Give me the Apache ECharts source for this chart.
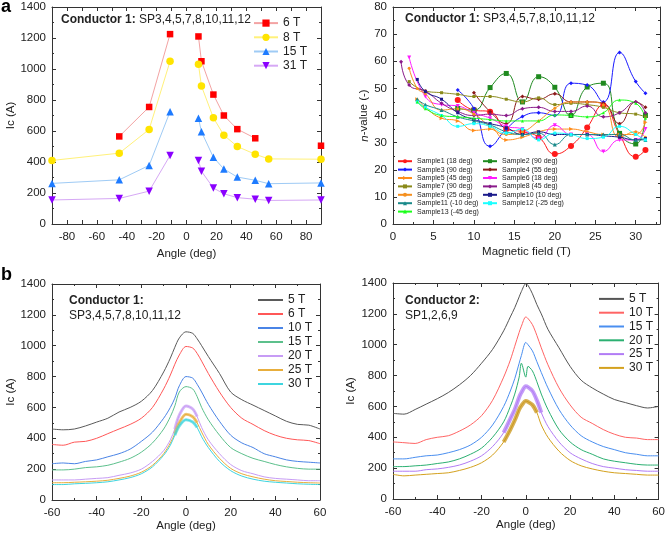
<!DOCTYPE html>
<html><head><meta charset="utf-8">
<script src="https://cdn.jsdelivr.net/npm/echarts@6/dist/echarts.min.js"></script>
<style>html,body{margin:0;padding:0;background:#fff}#c{width:668px;height:536px}</style>
</head><body><div id="c"></div>
<script>
// ---------- Panel a (left): Ic vs angle, Conductor 1 ----------
const anglesA = [-90, -45, -25, -11, 0, 8, 10, 18, 25, 34, 46, 55, 90];
const ic6T  = [null, 565, 755, 1225, null, 1210, 1050, 835, 700, 612, 553, null, 505];
const ic8T  = [410, 457, 610, 1050, null, 1030, 890, 685, 573, 500, 450, 420, 418];
const ic15T = [262, 285, 378, 725, null, 683, 595, 430, 355, 303, 282, 260, 265];
const ic31T = [155, 165, 212, 442, null, 410, 340, 232, 195, 170, 160, 152, 155];

// ---------- Panel a (right): n-value vs field ----------
const fieldsN = [1, 2, 3, 4, 6, 8, 10, 12, 14, 16, 18, 20, 22, 24, 26, 28, 30, 31.2];
const n1  = [null, null, null, null, null, 45.7, 42, 41.4, 35, 34, 32, 25.8, 28.8, 35.6, 43.9, 33, 24.8, 27.3];
const n2  = [null, null, null, null, null, 42.6, 42, 50.3, 55.5, 45, 54.3, 50.4, 40, 50.5, 51.9, 33.4, 29.5, 40];
const n3  = [null, null, null, null, null, 49.4, 42.6, 28.7, 35, 39.6, 41, 40, 51.9, 51.2, 45, 63.2, 52.5, 48.2];
const n4  = [null, null, null, null, null, null, 48.4, 41.4, 37, 47, 46, 48, 45, 45, 44.5, 37, 45, 43];
const n5  = [null, null, 46, 43, 39, 38, 34.5, 35, 31, 32, 34, 35, 35, 34, 33, 33, 33, 37.5];
const n6  = [null, 61.4, null, 47, 44, 43.5, 41, 39, 36, 35, 31.5, 36.4, 33, 33, 26.7, 31, 31, 35];
const n7  = [null, 52.5, null, 49, 48.4, 47.8, 47, 47, 46, 45, 46.5, 44, 44.5, 44, 43, 41, 40.5, 39.5];
const n8  = [59.8, 51.2, null, 49, 44.5, 41.5, 40, 40.5, 40, 42.5, 43, 41.5, 41.5, 43.5, 39.5, 41, 45, 41];
const n9  = [null, 57.4, 50, 48, 42, 42.5, 40.5, 36, 33, 34, 38, 42.7, 45, 45, 44, 32, 34, 32];
const n10 = [null, null, 53.3, 48.8, 46, 41, 38.5, 37, 35.5, 33, 34, 33, 33, 33, 32.5, 32, 31, 31.5];
const n11 = [null, null, 46, 44, 42, 39.5, 38, 36.5, 34, 33, 33.5, 29.3, 33, 33, 33, 33, 31, 31];
const n12 = [null, null, 45, 43, 40, 36, 37, 36, 33.5, 35, 31, 33.5, 33, 31.5, 32, 36, 33, 31];
const n13 = [null, null, 45, 42.5, 40, 39.5, 39, 38.5, 38, 38, 38, 40.2, 40, 39.5, 41, 45.7, 44.5, 39];
const sampleNames = ['Sample1 (18 deg)', 'Sample2 (90 deg)', 'Sample3 (90 deg)', 'Sample4 (55 deg)',
  'Sample5 (45 deg)', 'Sample6 (18 deg)', 'Sample7 (90 deg)', 'Sample8 (45 deg)', 'Sample9 (25 deg)',
  'Sample10 (10 deg)', 'Sample11 (-10 deg)', 'Sample12 (-25 deg)', 'Sample13 (-45 deg)'];

// ---------- Panel b (left): Conductor 1 angular scans ----------
const anglesB = [-60, -55, -50, -45, -40, -35, -30, -25, -20, -15, -10, -7, -5, -3, 0, 3, 5, 7, 10, 15, 20, 25, 30, 35, 40, 45, 50, 55, 60];
const c1_5T  = [460, 455, 460, 480, 505, 530, 570, 600, 640, 710, 830, 920, 990, 1050, 1090, 1080, 1045, 1000, 930, 820, 700, 650, 615, 580, 545, 510, 490, 485, 460];
const c1_6T  = [360, 355, 375, 380, 400, 430, 460, 490, 530, 600, 720, 810, 880, 940, 995, 985, 950, 900, 820, 700, 600, 530, 490, 450, 420, 400, 390, 385, 365];
const c1_10T = [235, 240, 235, 250, 260, 280, 300, 330, 380, 440, 530, 600, 660, 740, 800, 790, 750, 700, 620, 510, 420, 370, 340, 300, 280, 260, 250, 245, 240];
const c1_15T = [195, 195, 200, 210, 215, 225, 245, 270, 310, 370, 460, 540, 610, 700, 735, 720, 670, 600, 520, 420, 340, 300, 270, 250, 230, 215, 205, 200, 200];
const c1_20T = [130, 130, 130, 135, 140, 145, 160, 175, 200, 250, 320, 390, 460, 550, 610, 590, 540, 470, 390, 300, 230, 190, 170, 150, 140, 135, 130, 125, 125];
const c1_25T = [112, 112, 115, 118, 122, 128, 140, 155, 180, 225, 300, 370, 430, 500, 555, 540, 500, 440, 360, 270, 205, 170, 150, 135, 125, 120, 115, 112, 110];
const c1_30T = [100, 100, 105, 108, 112, 118, 130, 145, 170, 215, 290, 355, 420, 480, 520, 505, 470, 410, 340, 250, 190, 155, 135, 122, 115, 110, 105, 102, 100];

// ---------- Panel b (right): Conductor 2 angular scans ----------
const anglesC = [-60, -55, -50, -45, -40, -35, -30, -25, -20, -15, -10, -7, -5, -3, -2, 0, 1, 3, 5, 7, 10, 15, 20, 25, 30, 35, 40, 45, 50, 55, 60];
const c2_5T  = [555, 550, 580, 615, 650, 690, 740, 800, 880, 970, 1090, 1180, 1240, 1310, 1345, 1395, 1385, 1330, 1260, 1200, 1100, 980, 860, 770, 720, 680, 645, 625, 605, 590, 600];
const c2_10T = [370, 365, 360, 385, 400, 410, 440, 480, 540, 640, 790, 900, 990, 1080, 1120, 1180, 1170, 1130, 1060, 980, 870, 720, 610, 530, 490, 450, 420, 400, 395, 385, 385];
const c2_15T = [260, 260, 270, 280, 285, 300, 320, 350, 400, 480, 600, 700, 780, 880, 930, 1015, 1000, 960, 890, 820, 720, 580, 480, 410, 370, 340, 320, 300, 290, 280, 280];
const c2_20T = [210, 210, 215, 220, 230, 240, 260, 290, 330, 400, 500, 600, 680, 790, 880, 790, 860, 830, 760, 680, 580, 450, 370, 320, 290, 260, 245, 235, 225, 220, 220];
const c2_25T = [180, 180, 180, 190, 195, 205, 220, 245, 280, 340, 430, 520, 580, 660, 690, 730, 725, 700, 640, 560, 470, 370, 300, 260, 230, 210, 200, 190, 185, 180, 180];
const c2_30T = [160, 150, 155, 160, 165, 170, 185, 205, 235, 285, 370, 450, 510, 580, 605, 635, 630, 610, 560, 480, 400, 310, 250, 215, 195, 180, 170, 165, 160, 155, 155];

// ---------- helpers ----------
const FF = '"Liberation Sans", Arial, sans-serif';
const TXT = '#222';
const AX = '#333';
const pairs = (xs, ys) => xs.map((x, i) => [x, ys[i] == null ? '-' : ys[i]]);
const plain = v => String(v);

function axes(g, o) {
  return {
    type: 'value', gridIndex: g, min: o.min, max: o.max, interval: o.interval,
    splitLine: { show: false },
    axisLine: { show: true, onZero: false, lineStyle: { color: AX, width: 1 } },
    axisTick: { show: true, inside: true, length: 4, lineStyle: { color: AX } },
    minorTick: { show: true, splitNumber: o.minor || 2, length: 2, lineStyle: { color: AX } }
  };
}
const xAxes = [], yAxes = [];
function addGrid(g, xo, yo) {
  xAxes.push(Object.assign(axes(g, xo), {
    position: 'bottom',
    axisLabel: { color: TXT, fontSize: 11.5, fontFamily: FF, margin: xo.margin || 7, formatter: xo.fmt || plain },
    name: xo.name, nameLocation: 'middle', nameGap: xo.gap,
    nameTextStyle: { color: TXT, fontSize: 11.5, fontFamily: FF }
  }));
  xAxes.push(Object.assign(axes(g, xo), { position: 'top', axisLabel: { show: false } }));
  yAxes.push(Object.assign(axes(g, yo), {
    position: 'left',
    axisLabel: { color: TXT, fontSize: 11.5, fontFamily: FF, margin: 6, formatter: plain },
    name: yo.name, nameLocation: 'middle', nameGap: yo.gap,
    nameTextStyle: Object.assign({ color: TXT, fontSize: 11.5, fontFamily: FF }, yo.nameStyle || {})
  }));
  yAxes.push(Object.assign(axes(g, yo), { position: 'right', axisLabel: { show: false } }));
}
addGrid(0, { min: -90, max: 90, interval: 10, minor: 1, name: 'Angle (deg)', gap: 24,
  fmt: v => (v % 20 === 0 && Math.abs(v) < 90) ? String(v) : '' },
  { min: 0, max: 1400, interval: 200, name: 'Ic (A)', gap: 31 });
addGrid(1, { min: 0, max: 33, interval: 5, minor: 2, name: 'Magnetic field (T)', gap: 22,
  fmt: v => (v % 5 === 0) ? String(v) : '' },
  { min: 0, max: 80, interval: 10, name: '{i|n}-value (-)', gap: 17,
    nameStyle: { rich: { i: { fontStyle: 'italic', fontSize: 11.5, fontFamily: FF, color: TXT } } } });
addGrid(2, { min: -60, max: 60, interval: 20, minor: 2, name: 'Angle (deg)', gap: 19 },
  { min: 0, max: 1400, interval: 200, name: 'Ic (A)', gap: 31 });
addGrid(3, { min: -60, max: 60, interval: 20, minor: 2, name: 'Angle (deg)', gap: 20 },
  { min: 0, max: 1400, interval: 200, name: 'Ic (A)', gap: 36 });

const series = [];
// panel a-left
const aDefs = [
  ['a|6 T', ic6T, '#ff0000', '#f3a3a3', 'rect', 6.5, 0],
  ['a|8 T', ic8T, '#ffe400', '#fff17a', 'circle', 7.5, 0],
  ['a|15 T', ic15T, '#1e7bff', '#9fcbf5', 'triangle', 7.5, 0],
  ['a|31 T', ic31T, '#8a00ff', '#d6a8f5', 'triangle', 7.5, 180]
];
aDefs.forEach(d => series.push({
  type: 'line', name: d[0], xAxisIndex: 0, yAxisIndex: 0, data: pairs(anglesA, d[1]),
  symbol: d[4], symbolSize: d[5], symbolRotate: d[6], showSymbol: true, connectNulls: false,
  itemStyle: { color: d[2] }, lineStyle: { color: d[3], width: 1 }, z: 3, animation: false
}));
// panel a-right
const nVals = [n1, n2, n3, n4, n5, n6, n7, n8, n9, n10, n11, n12, n13];
const nColors = ['#ff1a1a', '#1f8a1f', '#1a1aff', '#8b1a1a', '#ff8c1a', '#ff1aff', '#8a8a1a', '#8a1a8a',
  '#f5901f', '#1a1a8b', '#1a8a8a', '#1affff', '#1aff1a'];
const nSym = [['circle', 6, 0], ['rect', 5, 0], ['diamond', 4, 0], ['diamond', 4, 0], ['triangle', 4, -90],
  ['triangle', 4, 180], ['rect', 3, 0], ['diamond', 4, 0], ['circle', 3, 0], ['rect', 3, 0],
  ['triangle', 4, 0], ['rect', 3, 0], ['triangle', 3, 0]];
nVals.forEach((v, i) => series.push({
  type: 'line', name: sampleNames[i], xAxisIndex: 2, yAxisIndex: 2, data: pairs(fieldsN, v),
  smooth: 0.5, connectNulls: true, symbol: nSym[i][0], symbolSize: nSym[i][1], symbolRotate: nSym[i][2],
  showSymbol: true, itemStyle: { color: nColors[i] }, lineStyle: { color: nColors[i], width: 1 },
  animation: false
}));
// panel b-left
const bDefs = [
  ['b|5 T', c1_5T, '#5a5a5a'], ['b|6 T', c1_6T, '#ff5757'], ['b|10 T', c1_10T, '#4a84e6'],
  ['b|15 T', c1_15T, '#5cc08c'], ['b|20 T', c1_20T, '#c79cf5'], ['b|25 T', c1_25T, '#e8ae3c'],
  ['b|30 T', c1_30T, '#3ed5df']
];
bDefs.forEach(d => series.push({
  type: 'line', name: d[0], xAxisIndex: 4, yAxisIndex: 4, data: pairs(anglesB, d[1]),
  smooth: 0.3, showSymbol: false, symbol: 'none', itemStyle: { color: d[2] },
  lineStyle: { color: d[2], width: 1 }, animation: false
}));
// thick core segments near peak for high-field curves (same data, subset)
[[c1_20T, '#c79cf5'], [c1_25T, '#e8ae3c'], [c1_30T, '#3ed5df']].forEach(d => series.push({
  type: 'line', name: 'core', xAxisIndex: 4, yAxisIndex: 4,
  data: pairs(anglesB.slice(12, 17), d[0].slice(12, 17)), smooth: 0.3, symbol: 'none',
  lineStyle: { color: d[1], width: 3, opacity: 0.7 }, animation: false
}));
// panel b-right
const cDefs = [
  ['c|5 T', c2_5T, '#555555'], ['c|10 T', c2_10T, '#ff6464'], ['c|15 T', c2_15T, '#4a8ff0'],
  ['c|20 T', c2_20T, '#2bb071'], ['c|25 T', c2_25T, '#b27cf5'], ['c|30 T', c2_30T, '#d4a11e']
];
cDefs.forEach(d => series.push({
  type: 'line', name: d[0], xAxisIndex: 6, yAxisIndex: 6, data: pairs(anglesC, d[1]),
  smooth: 0.3, showSymbol: false, symbol: 'none', itemStyle: { color: d[2] },
  lineStyle: { color: d[2], width: 1 }, animation: false
}));
[[c2_25T, '#b27cf5', 20], [c2_30T, '#c9961a', 19]].forEach(d => series.push({
  type: 'line', name: 'core', xAxisIndex: 6, yAxisIndex: 6,
  data: pairs(anglesC.slice(10, d[2]), d[0].slice(10, d[2])), smooth: 0.3, symbol: 'none',
  lineStyle: { color: d[1], width: 4, opacity: 0.75 }, animation: false
}));

const legText = { color: TXT, fontFamily: FF };
const stripFmt = n => n.split('|')[1];
const legends = [
  { data: aDefs.map(d => d[0]), left: 253, top: 16, orient: 'vertical', itemWidth: 24, itemHeight: 9,
    itemGap: 0, formatter: stripFmt, textStyle: Object.assign({ fontSize: 12, lineHeight: 14.2 }, legText) },
  { data: sampleNames.filter((_, i) => i % 2 === 0), left: 397, top: 157, orient: 'vertical',
    itemWidth: 14, itemHeight: 5, itemGap: 0, textStyle: Object.assign({ fontSize: 7, lineHeight: 8.4 }, legText) },
  { data: sampleNames.filter((_, i) => i % 2 === 1), left: 482, top: 157, orient: 'vertical',
    itemWidth: 14, itemHeight: 5, itemGap: 0, textStyle: Object.assign({ fontSize: 7, lineHeight: 8.4 }, legText) },
  { data: bDefs.map(d => d[0]), left: 258, top: 293, orient: 'vertical', itemWidth: 25, itemHeight: 2,
    icon: 'rect', itemGap: 0, formatter: stripFmt, textStyle: Object.assign({ fontSize: 12, lineHeight: 14 }, legText) },
  { data: cDefs.map(d => d[0]), left: 599, top: 292, orient: 'vertical', itemWidth: 25, itemHeight: 2,
    icon: 'rect', itemGap: 0, formatter: stripFmt, textStyle: Object.assign({ fontSize: 12, lineHeight: 13.8 }, legText) }
].map(l => Object.assign({ selectedMode: false, padding: 0 }, l));

const rich = { b: { fontWeight: 'bold', fontSize: 12, fontFamily: FF, fill: TXT, color: TXT } };
const graphics = [
  { type: 'text', left: 1, top: -2, style: { text: 'a', font: 'bold 18px ' + FF, fill: '#000' } },
  { type: 'text', left: 1, top: 266, style: { text: 'b', font: 'bold 18px ' + FF, fill: '#000' } },
  { type: 'text', left: 61, top: 14, style: { text: '{b|Conductor 1:} SP3,4,5,7,8,10,11,12', rich, font: '12px ' + FF, fill: TXT } },
  { type: 'text', left: 405, top: 13, style: { text: '{b|Conductor 1:} SP3,4,5,7,8,10,11,12', rich, font: '12px ' + FF, fill: TXT } },
  { type: 'text', left: 69, top: 295, style: { text: 'Conductor 1:', font: 'bold 12px ' + FF, fill: TXT } },
  { type: 'text', left: 69, top: 310, style: { text: 'SP3,4,5,7,8,10,11,12', font: '12px ' + FF, fill: TXT } },
  { type: 'text', left: 405, top: 295, style: { text: 'Conductor 2:', font: 'bold 12px ' + FF, fill: TXT } },
  { type: 'text', left: 405, top: 310, style: { text: 'SP1,2,6,9', font: '12px ' + FF, fill: TXT } }
];

const chart = echarts.init(document.getElementById('c'), null, { renderer: 'canvas' });
chart.setOption({
  animation: false,
  backgroundColor: '#fff',
  textStyle: { fontFamily: FF },
  grid: [
    { left: 52, top: 7, width: 269, height: 217 },
    { left: 393, top: 7, width: 267, height: 217 },
    { left: 52, top: 284, width: 268, height: 216 },
    { left: 393, top: 283, width: 267, height: 216 }
  ],
  xAxis: xAxes, yAxis: yAxes, series, legend: legends, graphic: graphics
});
</script></body></html>
